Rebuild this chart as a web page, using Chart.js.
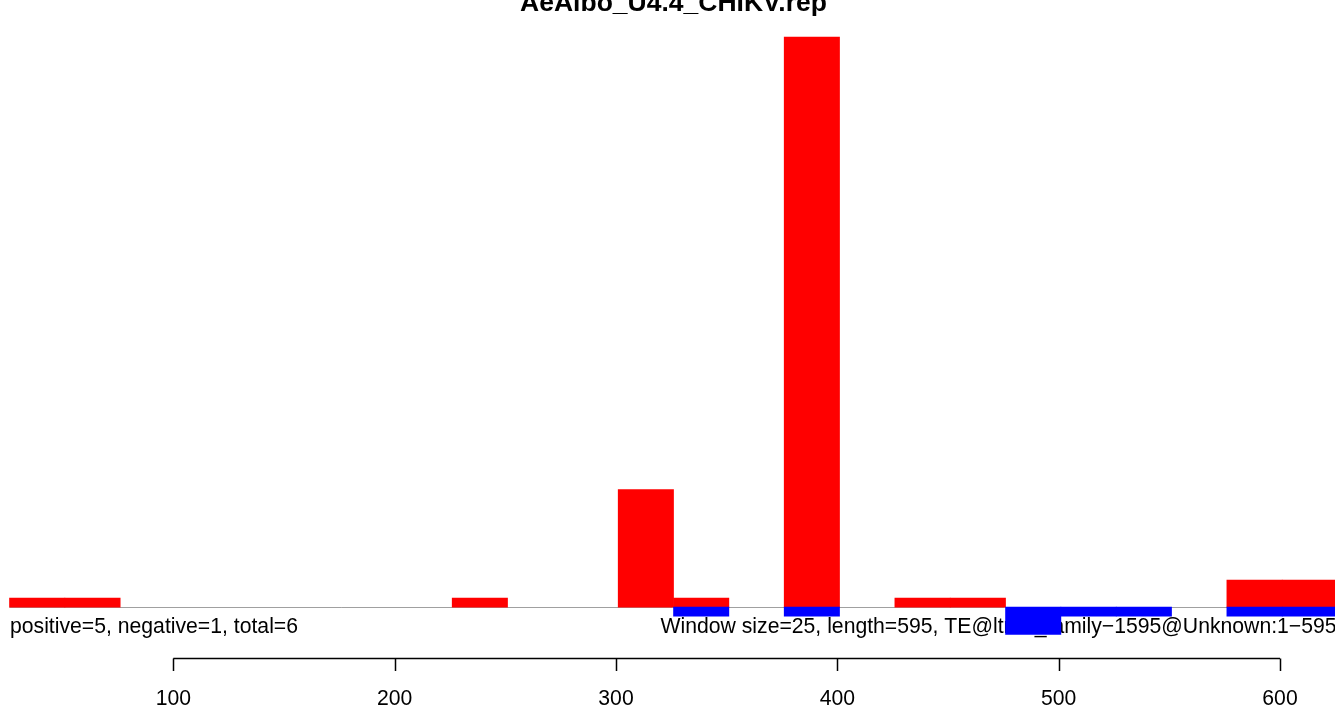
<!DOCTYPE html>
<html>
<head>
<meta charset="utf-8">
<script src="https://cdn.jsdelivr.net/npm/chart.js@4/dist/chart.umd.min.js"></script>
<style>
  html, body { margin: 0; padding: 0; background: #ffffff; }
  #wrap { width: 1335px; height: 709px; position: relative; }
  canvas { display: block; }
</style>
</head>
<body>
<div id="wrap"><canvas id="c" width="1335" height="709"></canvas></div>
<script>
// ---- data ----
const chartTitle = "AeAlbo_U4.4_CHIKV.rep";
const leftNote = "positive=5, negative=1, total=6";
const rightNote = "Window size=25, length=595, TE@ltr\u22121_family\u22121595@Unknown:1\u2212595";
const windowSize = 25;
const windowStarts = [26, 51, 76, 101, 126, 151, 176, 201, 226, 251, 276, 301,
                      326, 351, 376, 401, 426, 451, 476, 501, 526, 551, 576, 601];
const positiveCounts = [1, 1, 0, 0, 0, 0, 0, 0, 1, 0, 0, 13,
                        1, 0, 63, 0, 1, 1, 0, 0, 0, 0, 3, 3];
const negativeCounts = [0, 0, 0, 0, 0, 0, 0, 0, 0, 0, 0, 0,
                        -1, 0, -1, 0, 0, 0, -3, -1, -1, 0, -1, -1];
const xTicks = [100, 200, 300, 400, 500, 600];

// empty windows are left out (null) so no hairline bar is drawn for them
const toPoints = (vals) => windowStarts.map((s, i) => ({ x: s + windowSize / 2, y: vals[i] === 0 ? null : vals[i] }));

const FONT = '"Liberation Sans", Arial, Helvetica, sans-serif';

const rPlot = {
  id: 'rPlot',
  beforeDatasetsDraw(chart) {
    const ctx = chart.ctx;
    const xs = chart.scales.x, ys = chart.scales.y;
    const y0 = Math.round(ys.getPixelForValue(0)) + 0.5;
    ctx.save();
    // baseline
    ctx.strokeStyle = '#a0a0a0';
    ctx.lineWidth = 1;
    ctx.beginPath();
    ctx.moveTo(xs.getPixelForValue(windowStarts[0]), y0);
    ctx.lineTo(xs.getPixelForValue(windowStarts[windowStarts.length - 1] + windowSize), y0);
    ctx.stroke();
    // notes under the bars (bars are drawn on top of them)
    ctx.fillStyle = '#000000';
    ctx.font = '21.2px ' + FONT;
    ctx.textBaseline = 'alphabetic';
    ctx.textAlign = 'left';
    ctx.fillText(leftNote, 10, 633);
    ctx.fillText(rightNote, 660.5, 633);
    ctx.restore();
  },
  afterDatasetsDraw(chart) {
    const ctx = chart.ctx;
    const xs = chart.scales.x;
    ctx.save();
    // title
    ctx.fillStyle = '#000000';
    ctx.font = 'bold 26.5px ' + FONT;
    ctx.textAlign = 'center';
    ctx.textBaseline = 'alphabetic';
    ctx.fillText(chartTitle, 673.5, 10.5);
    // bottom axis
    const ya = 658.5;
    ctx.strokeStyle = '#000000';
    ctx.lineWidth = 1.5;
    ctx.beginPath();
    ctx.moveTo(xs.getPixelForValue(xTicks[0]), ya);
    ctx.lineTo(xs.getPixelForValue(xTicks[xTicks.length - 1]), ya);
    xTicks.forEach(t => {
      const px = Math.round(xs.getPixelForValue(t)) + 0.5;
      ctx.moveTo(px, ya);
      ctx.lineTo(px, 671);
    });
    ctx.stroke();
    ctx.font = '21.2px ' + FONT;
    ctx.textAlign = 'center';
    xTicks.forEach(t => {
      ctx.fillText(String(t), xs.getPixelForValue(t), 705);
    });
    ctx.restore();
  }
};

new Chart(document.getElementById('c'), {
  type: 'bar',
  data: {
    datasets: [
      {
        label: 'negative',
        data: toPoints(negativeCounts),
        backgroundColor: '#0000FF',
        borderWidth: 0,
        grouped: false,
        barPercentage: 1,
        categoryPercentage: 1
      },
      {
        label: 'positive',
        data: toPoints(positiveCounts),
        backgroundColor: '#FF0000',
        borderWidth: 0,
        grouped: false,
        barPercentage: 1,
        categoryPercentage: 1
      }
    ]
  },
  options: {
    responsive: false,
    devicePixelRatio: 1,
    animation: false,
    layout: { padding: 0 },
    plugins: {
      legend: { display: false },
      title: { display: false },
      tooltip: { enabled: false }
    },
    events: [],
    scales: {
      x: { type: 'linear', display: false, min: 21.7, max: 624.85, offset: false },
      y: { type: 'linear', display: false, min: -11.25, max: 67.09 }
    }
  },
  plugins: [rPlot]
});
</script>
</body>
</html>
